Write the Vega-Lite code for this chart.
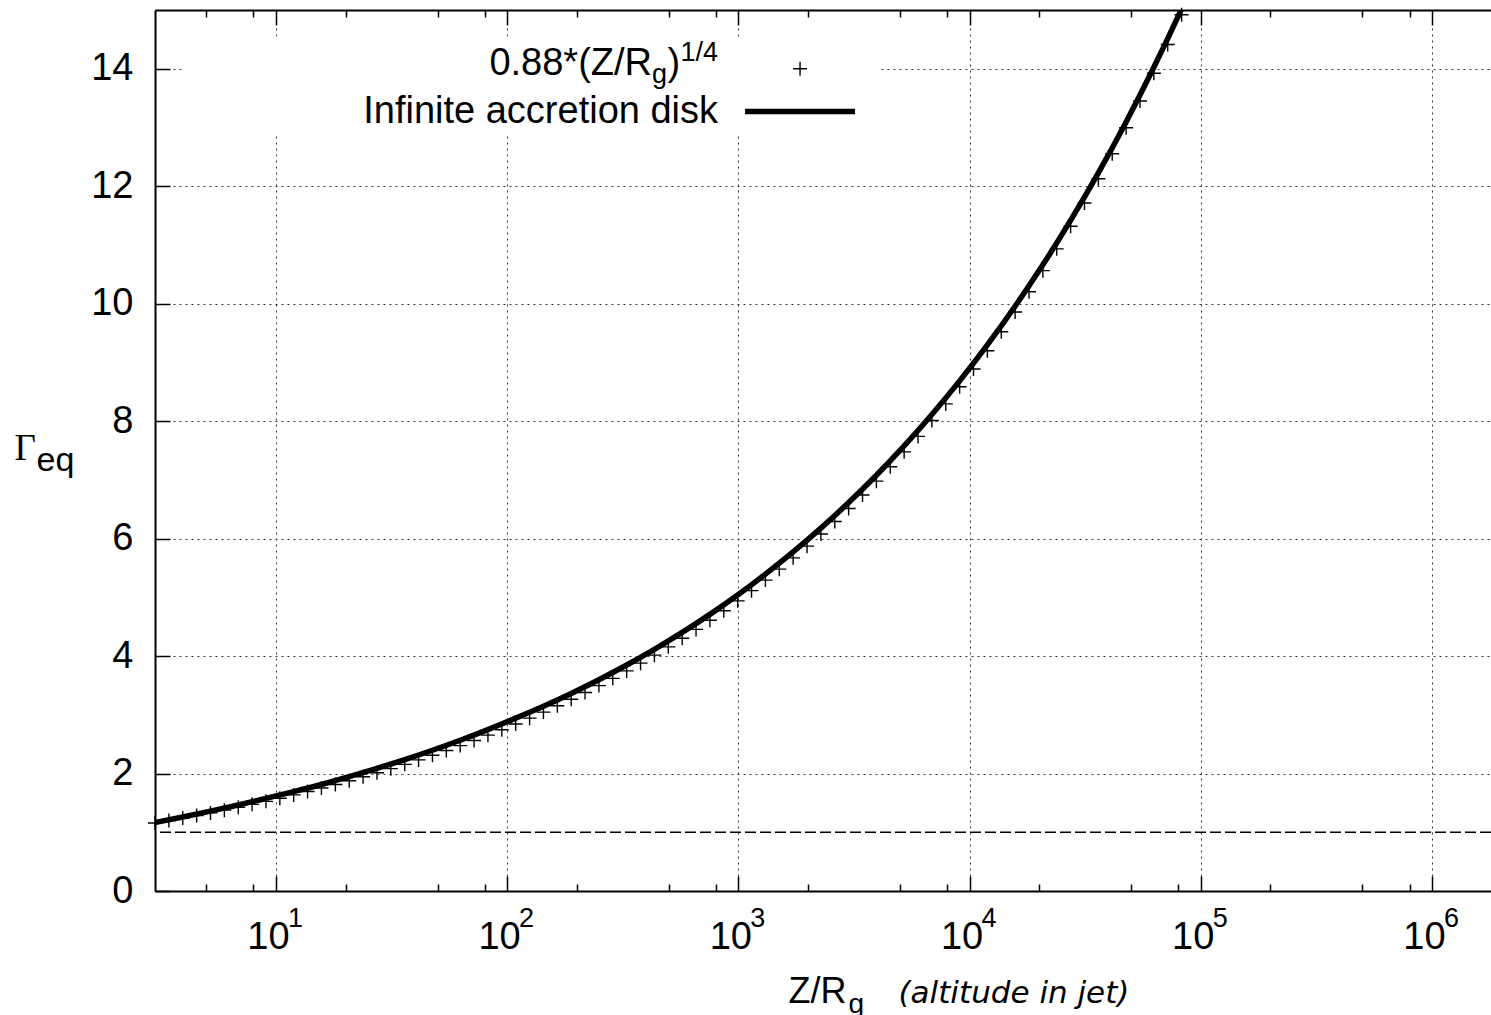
{
  "$schema": "https://vega.github.io/schema/vega-lite/v6.json",
  "width": 1336,
  "height": 881,
  "autosize": {"type": "none"},
  "padding": {"left": 155, "top": 10, "right": 0, "bottom": 124},
  "background": "white",
  "config": {
    "view": {"stroke": null},
    "font": "Liberation Sans",
    "axis": {
      "labelFont": "Liberation Sans",
      "titleFont": "Liberation Sans",
      "labelColor": "black",
      "titleColor": "black",
      "titleFontWeight": "normal",
      "domainColor": "black",
      "tickColor": "black"
    }
  },
  "datasets": {
    "markers": [
      {"Z": 3, "G": 1.1581}, {"Z": 3.4446, "G": 1.1988}, {"Z": 3.955, "G": 1.2410}, {"Z": 4.541, "G": 1.2846},
      {"Z": 5.213, "G": 1.3297}, {"Z": 5.986, "G": 1.3765}, {"Z": 6.873, "G": 1.4248}, {"Z": 7.891, "G": 1.4749},
      {"Z": 9.060, "G": 1.5267}, {"Z": 10.40, "G": 1.5804}, {"Z": 11.94, "G": 1.6359}, {"Z": 13.71, "G": 1.6934},
      {"Z": 15.74, "G": 1.7529}, {"Z": 18.08, "G": 1.8145}, {"Z": 20.75, "G": 1.8783}, {"Z": 23.83, "G": 1.9443},
      {"Z": 27.36, "G": 2.0126}, {"Z": 31.41, "G": 2.0833}, {"Z": 36.07, "G": 2.1565}, {"Z": 41.41, "G": 2.2323},
      {"Z": 47.55, "G": 2.3108}, {"Z": 54.59, "G": 2.3920}, {"Z": 62.68, "G": 2.4760}, {"Z": 71.96, "G": 2.5630},
      {"Z": 82.63, "G": 2.6531}, {"Z": 94.87, "G": 2.7463}, {"Z": 108.9, "G": 2.8428}, {"Z": 125.1, "G": 2.9427},
      {"Z": 143.6, "G": 3.0461}, {"Z": 164.9, "G": 3.1532}, {"Z": 189.3, "G": 3.2640}, {"Z": 217.3, "G": 3.3787},
      {"Z": 249.5, "G": 3.4974}, {"Z": 286.5, "G": 3.6203}, {"Z": 328.9, "G": 3.7475}, {"Z": 377.7, "G": 3.8792},
      {"Z": 433.6, "G": 4.0155}, {"Z": 497.9, "G": 4.1566}, {"Z": 571.7, "G": 4.3027}, {"Z": 656.3, "G": 4.4539},
      {"Z": 753.6, "G": 4.6104}, {"Z": 865.2, "G": 4.7726}, {"Z": 993.4, "G": 4.9403}, {"Z": 1140.6, "G": 5.1139},
      {"Z": 1309.6, "G": 5.2936}, {"Z": 1503.6, "G": 5.4796}, {"Z": 1726.3, "G": 5.6721}, {"Z": 1982.1, "G": 5.8715},
      {"Z": 2275.7, "G": 6.0778}, {"Z": 2612.9, "G": 6.2913}, {"Z": 3000, "G": 6.5125}, {"Z": 3445, "G": 6.7413},
      {"Z": 3955, "G": 6.9782}, {"Z": 4541, "G": 7.2234}, {"Z": 5213, "G": 7.4772}, {"Z": 5986, "G": 7.7400},
      {"Z": 6873, "G": 8.0119}, {"Z": 7891, "G": 8.2935}, {"Z": 9060, "G": 8.5849}, {"Z": 10402, "G": 8.8866},
      {"Z": 11943, "G": 9.1990}, {"Z": 13713, "G": 9.5226}, {"Z": 15744, "G": 9.8572}, {"Z": 18077, "G": 10.2036},
      {"Z": 20755, "G": 10.5622}, {"Z": 23830, "G": 10.9333}, {"Z": 27360, "G": 11.3175}, {"Z": 31413, "G": 11.7152},
      {"Z": 36069, "G": 12.1269}, {"Z": 41412, "G": 12.5530}, {"Z": 47547, "G": 12.9942}, {"Z": 54591, "G": 13.4508},
      {"Z": 62679, "G": 13.9235}, {"Z": 71964, "G": 14.4127}, {"Z": 82627, "G": 14.9192}
    ],
    "disk": [
      {"Z": 3, "G": 1.166}, {"Z": 3.955, "G": 1.261}, {"Z": 5.213, "G": 1.360}, {"Z": 6.873, "G": 1.465},
      {"Z": 9.060, "G": 1.577}, {"Z": 11.94, "G": 1.691}, {"Z": 15.74, "G": 1.813}, {"Z": 20.75, "G": 1.948},
      {"Z": 27.36, "G": 2.088}, {"Z": 36.07, "G": 2.237}, {"Z": 47.55, "G": 2.396}, {"Z": 62.68, "G": 2.566},
      {"Z": 82.63, "G": 2.748}, {"Z": 108.9, "G": 2.943}, {"Z": 143.6, "G": 3.146}, {"Z": 189.3, "G": 3.364},
      {"Z": 249.5, "G": 3.597}, {"Z": 328.9, "G": 3.848}, {"Z": 433.6, "G": 4.116}, {"Z": 571.7, "G": 4.403},
      {"Z": 753.6, "G": 4.710}, {"Z": 993.4, "G": 5.040}, {"Z": 1309.6, "G": 5.394}, {"Z": 1726.3, "G": 5.772},
      {"Z": 2275.7, "G": 6.178}, {"Z": 3000, "G": 6.613}, {"Z": 3955, "G": 7.078}, {"Z": 5213, "G": 7.577},
      {"Z": 6873, "G": 8.112}, {"Z": 9060, "G": 8.685}, {"Z": 11943, "G": 9.299}, {"Z": 15744, "G": 9.957},
      {"Z": 20755, "G": 10.662}, {"Z": 27360, "G": 11.418}, {"Z": 36069, "G": 12.227}, {"Z": 47547, "G": 13.094},
      {"Z": 62679, "G": 14.024}, {"Z": 82627, "G": 15.019}, {"Z": 108924, "G": 16.087}
    ],
    "exps": [
      {"tick": 10, "exp": "1"}, {"tick": 100, "exp": "2"}, {"tick": 1000, "exp": "3"},
      {"tick": 10000, "exp": "4"}, {"tick": 100000, "exp": "5"}, {"tick": 1000000, "exp": "6"}
    ]
  },
  "layer": [
    {
      "data": {"values": [{}]},
      "mark": {"type": "rect", "fill": "white"},
      "encoding": {
        "x": {"datum": 4.0, "type": "quantitative", "scale": {"type": "log", "domain": [3, 1800000], "nice": false}, "axis": null},
        "x2": {"datum": 4100},
        "y": {"datum": 14.5, "type": "quantitative", "scale": {"domain": [0, 15], "nice": false, "zero": false}, "axis": null},
        "y2": {"datum": 12.86}
      }
    },
    {
      "data": {"values": [{}]},
      "mark": {"type": "rule", "strokeDash": [11, 4], "strokeWidth": 1.5, "color": "black"},
      "encoding": {
        "y": {"datum": 1, "type": "quantitative", "scale": {"domain": [0, 15], "nice": false, "zero": false}, "axis": null}
      }
    },
    {
      "data": {"name": "disk"},
      "mark": {"type": "line", "color": "black", "strokeWidth": 5.5, "clip": true, "interpolate": "monotone"},
      "encoding": {
        "x": {
          "field": "Z", "type": "quantitative",
          "scale": {"type": "log", "domain": [3, 1800000], "nice": false},
          "axis": {
            "orient": "bottom",
            "values": [5, 8, 10, 20, 50, 80, 100, 200, 500, 800, 1000, 2000, 5000, 8000, 10000, 20000, 50000, 80000, 100000, 200000, 500000, 800000, 1000000],
            "labels": false, "grid": false, "domain": false, "ticks": true,
            "tickSize": {"condition": {"test": "indexof([10,100,1000,10000,100000,1000000], datum.value) >= 0", "value": -15}, "value": -7},
            "tickWidth": 1.5,
            "title": "g", "titleFontSize": 28, "titleX": 693, "titleY": 121, "titleAlign": "left", "titleBaseline": "alphabetic"
          }
        },
        "y": {
          "field": "G", "type": "quantitative",
          "scale": {"domain": [0, 15], "nice": false, "zero": false},
          "axis": {
            "orient": "left", "values": [0, 2, 4, 6, 8, 10, 12, 14],
            "labels": false, "grid": false, "domain": false, "ticks": true, "tickSize": -15, "tickWidth": 1.5,
            "title": "eq", "titleFontSize": 34, "titleAngle": 0, "titleX": -119, "titleY": 460, "titleAlign": "left", "titleBaseline": "alphabetic"
          }
        }
      }
    },
    {
      "data": {"name": "markers"},
      "mark": {"type": "point", "shape": "M-1,0H1M0,-1V1", "size": 196, "filled": false, "stroke": "black", "strokeWidth": 1.4, "opacity": 1},
      "encoding": {
        "x": {
          "field": "Z", "type": "quantitative",
          "scale": {"type": "log", "domain": [3, 1800000], "nice": false},
          "axis": {
            "orient": "bottom", "values": [10, 100, 1000, 10000, 100000, 1000000],
            "labelExpr": "'10'", "labelFontSize": 38, "labelOffset": -8, "labelPadding": 57, "labelBaseline": "alphabetic",
            "labelFlush": false, "labelOverlap": false,
            "ticks": false, "grid": true, "gridDash": [2, 4], "gridColor": "#333", "gridWidth": 1,
            "domain": true, "domainWidth": 2,
            "title": "Z/R", "titleFontSize": 36, "titleX": 633, "titleY": 111, "titleAlign": "left", "titleBaseline": "alphabetic"
          }
        },
        "y": {
          "field": "G", "type": "quantitative",
          "scale": {"domain": [0, 15], "nice": false, "zero": false},
          "axis": {
            "orient": "left", "values": [0, 2, 4, 6, 8, 10, 12, 14],
            "labelFontSize": 38, "labelPadding": 22, "labelFlush": false, "labelOverlap": false,
            "ticks": false, "grid": true, "gridDash": [2, 4], "gridColor": "#333", "gridWidth": 1,
            "domain": true, "domainWidth": 2,
            "title": "Γ", "titleFont": "Liberation Serif", "titleFontSize": 37, "titleAngle": 0,
            "titleX": -141, "titleY": 449, "titleAlign": "left", "titleBaseline": "alphabetic"
          }
        }
      }
    },
    {
      "data": {"name": "exps"},
      "mark": {"type": "text", "font": "Liberation Sans", "fontSize": 27, "align": "left", "baseline": "alphabetic", "dx": 12, "dy": 36, "color": "black"},
      "encoding": {
        "x": {
          "field": "tick", "type": "quantitative",
          "scale": {"type": "log", "domain": [3, 1800000], "nice": false},
          "axis": {
            "orient": "top",
            "values": [5, 8, 10, 20, 50, 80, 100, 200, 500, 800, 1000, 2000, 5000, 8000, 10000, 20000, 50000, 80000, 100000, 200000, 500000, 800000, 1000000],
            "labels": false, "grid": false, "domain": true, "domainWidth": 2, "ticks": true,
            "tickSize": {"condition": {"test": "indexof([10,100,1000,10000,100000,1000000], datum.value) >= 0", "value": -15}, "value": -7},
            "tickWidth": 1.5,
            "title": "(altitude in jet)", "titleFont": "DejaVu Sans", "titleFontStyle": "italic", "titleFontSize": 31,
            "titleX": 743, "titleY": 992, "titleAlign": "left", "titleBaseline": "alphabetic"
          }
        },
        "y": {"datum": 0, "type": "quantitative", "scale": {"domain": [0, 15], "nice": false, "zero": false}, "axis": null},
        "text": {"field": "exp"}
      }
    },
    {
      "data": {"values": [{}]},
      "mark": {"type": "text", "text": "1/4", "font": "Liberation Sans", "fontSize": 27, "align": "right", "baseline": "alphabetic", "dy": -14, "color": "black"},
      "encoding": {
        "x": {"datum": 817, "type": "quantitative", "scale": {"type": "log", "domain": [3, 1800000], "nice": false}, "axis": null},
        "y": {"datum": 13.9, "type": "quantitative", "scale": {"domain": [0, 15], "nice": false, "zero": false}, "axis": null}
      }
    },
    {
      "data": {"values": [{}]},
      "mark": {"type": "text", "text": ")", "font": "Liberation Sans", "fontSize": 38, "align": "right", "baseline": "alphabetic", "dx": -38, "color": "black"},
      "encoding": {
        "x": {"datum": 817, "type": "quantitative", "scale": {"type": "log", "domain": [3, 1800000], "nice": false}, "axis": null},
        "y": {"datum": 13.9, "type": "quantitative", "scale": {"domain": [0, 15], "nice": false, "zero": false}, "axis": null}
      }
    },
    {
      "data": {"values": [{}]},
      "mark": {"type": "text", "text": "g", "font": "Liberation Sans", "fontSize": 27, "align": "right", "baseline": "alphabetic", "dx": -51, "dy": 8, "color": "black"},
      "encoding": {
        "x": {"datum": 817, "type": "quantitative", "scale": {"type": "log", "domain": [3, 1800000], "nice": false}, "axis": null},
        "y": {"datum": 13.9, "type": "quantitative", "scale": {"domain": [0, 15], "nice": false, "zero": false}, "axis": null}
      }
    },
    {
      "data": {"values": [{}]},
      "mark": {"type": "text", "text": "0.88*(Z/R", "font": "Liberation Sans", "fontSize": 38, "align": "right", "baseline": "alphabetic", "dx": -66, "color": "black"},
      "encoding": {
        "x": {"datum": 817, "type": "quantitative", "scale": {"type": "log", "domain": [3, 1800000], "nice": false}, "axis": null},
        "y": {"datum": 13.9, "type": "quantitative", "scale": {"domain": [0, 15], "nice": false, "zero": false}, "axis": null}
      }
    },
    {
      "data": {"values": [{}]},
      "mark": {"type": "text", "text": "Infinite accretion disk", "font": "Liberation Sans", "fontSize": 38, "align": "right", "baseline": "alphabetic", "color": "black"},
      "encoding": {
        "x": {"datum": 817, "type": "quantitative", "scale": {"type": "log", "domain": [3, 1800000], "nice": false}, "axis": null},
        "y": {"datum": 13.08, "type": "quantitative", "scale": {"domain": [0, 15], "nice": false, "zero": false}, "axis": null}
      }
    },
    {
      "data": {"values": [{}]},
      "mark": {"type": "point", "shape": "M-1,0H1M0,-1V1", "size": 196, "filled": false, "stroke": "black", "strokeWidth": 1.4, "opacity": 1},
      "encoding": {
        "x": {"datum": 1849, "type": "quantitative", "scale": {"type": "log", "domain": [3, 1800000], "nice": false}, "axis": null},
        "y": {"datum": 14.0, "type": "quantitative", "scale": {"domain": [0, 15], "nice": false, "zero": false}, "axis": null}
      }
    },
    {
      "data": {"values": [{}]},
      "mark": {"type": "rule", "strokeWidth": 5.5, "color": "black"},
      "encoding": {
        "x": {"datum": 1069, "type": "quantitative", "scale": {"type": "log", "domain": [3, 1800000], "nice": false}, "axis": null},
        "x2": {"datum": 3197},
        "y": {"datum": 13.27, "type": "quantitative", "scale": {"domain": [0, 15], "nice": false, "zero": false}, "axis": null}
      }
    }
  ],
  "resolve": {"axis": {"x": "independent", "y": "independent"}}
}
